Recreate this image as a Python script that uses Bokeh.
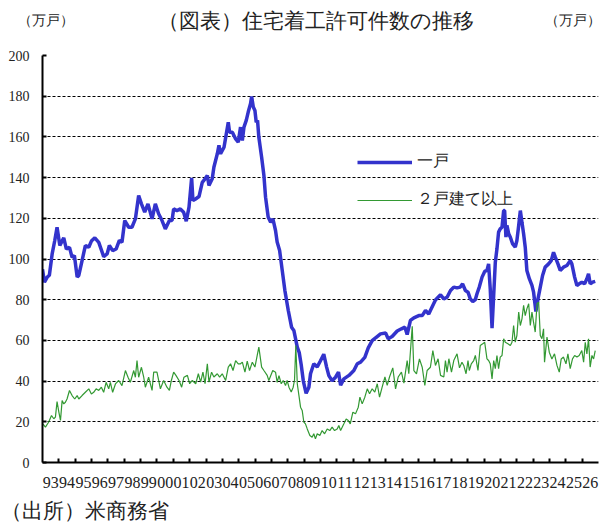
from bokeh.plotting import figure
from bokeh.layouts import column
from bokeh.models import (Range1d, FixedTicker, CustomJSTickFormatter, Label,
                          Legend, LegendItem, Plot)
from bokeh.embed import file_html
from bokeh.resources import INLINE

# ---- data (time in decimal years) ----
year_labels = ["93", "94", "95", "96", "97", "98", "99", "00", "01", "02", "03",
               "04", "05", "06", "07", "08", "09", "10", "11", "12", "13", "14",
               "15", "16", "17", "18", "19", "20", "21", "22", "23", "24", "25", "26"]
y_ticks = [0, 20, 40, 60, 80, 100, 120, 140, 160, 180, 200]

single_t = [1993.00, 1993.12, 1993.28, 1993.42, 1993.59, 1993.75, 1993.89, 1994.06, 1994.30,
            1994.46, 1994.65, 1994.81, 1994.95, 1995.12, 1995.22, 1995.42, 1995.62, 1995.83,
            1995.99, 1996.20, 1996.44, 1996.74, 1996.95, 1997.09, 1997.29, 1997.50, 1997.70,
            1997.86, 1998.03, 1998.27, 1998.47, 1998.68, 1998.88, 1999.05, 1999.25, 1999.45,
            1999.70, 1999.90, 2000.10, 2000.31, 2000.51, 2000.76, 2000.92, 2001.02, 2001.22,
            2001.43, 2001.63, 2001.79, 2001.96, 2002.12, 2002.20, 2002.36, 2002.57, 2002.77,
            2002.94, 2003.08, 2003.18, 2003.38, 2003.48, 2003.69, 2003.79, 2003.89, 2004.10,
            2004.24, 2004.36, 2004.44, 2004.61, 2004.81, 2004.97, 2005.11, 2005.22, 2005.32,
            2005.46, 2005.58, 2005.72, 2005.79, 2005.89, 2005.99, 2006.07, 2006.15, 2006.23,
            2006.40, 2006.54, 2006.64, 2006.80, 2006.95, 2007.09, 2007.25, 2007.35, 2007.50,
            2007.66, 2007.82, 2008.03, 2008.23, 2008.37, 2008.58, 2008.70, 2008.82, 2008.95,
            2009.12, 2009.29, 2009.39, 2009.59, 2009.80, 2010.00, 2010.20, 2010.37, 2010.51,
            2010.71, 2010.92, 2011.10, 2011.23, 2011.43, 2011.74, 2012.04, 2012.25, 2012.45,
            2012.71, 2012.92, 2013.16, 2013.37, 2013.67, 2013.98, 2014.14, 2014.38, 2014.69,
            2014.95, 2015.16, 2015.30, 2015.50, 2015.71, 2016.01, 2016.22, 2016.42, 2016.62,
            2016.72, 2017.03, 2017.19, 2017.34, 2017.54, 2017.74, 2017.95, 2018.15, 2018.35,
            2018.55, 2018.69, 2018.86, 2019.02, 2019.16, 2019.31, 2019.47, 2019.57, 2019.71,
            2019.88, 2020.04, 2020.18, 2020.28, 2020.38, 2020.49, 2020.59, 2020.69, 2020.79,
            2020.89, 2020.99, 2021.10, 2021.20, 2021.26, 2021.34, 2021.40, 2021.51, 2021.61,
            2021.75, 2021.91, 2022.01, 2022.12, 2022.22, 2022.32, 2022.42, 2022.52, 2022.62,
            2022.77, 2022.93, 2023.03, 2023.17, 2023.30, 2023.44, 2023.58, 2023.74, 2023.95,
            2024.11, 2024.25, 2024.36, 2024.52, 2024.66, 2024.86, 2025.07, 2025.27, 2025.37,
            2025.54, 2025.68, 2025.82, 2025.98, 2026.15, 2026.29, 2026.39, 2026.49, 2026.64,
            2026.80]
single_v = [95.0, 88.6, 91.0, 92.0, 102.5, 109.1, 115.6, 106.6, 110.4,
            104.9, 105.7, 100.8, 101.7, 91.1, 91.9, 99.2, 106.6, 105.8,
            108.8, 110.4, 108.2, 101.2, 102.5, 106.6, 104.1, 104.9, 109.1,
            108.2, 118.9, 115.6, 115.6, 119.7, 131.2, 127.1, 123.0, 127.1,
            119.7, 127.1, 122.2, 118.9, 114.8, 118.9, 118.9, 124.6, 123.8,
            124.6, 123.0, 118.6, 125.5, 139.9, 128.7, 129.5, 130.7, 137.7,
            139.4, 141.0, 136.1, 139.4, 145.1, 151.7, 155.8, 151.7, 154.9,
            161.5, 167.2, 162.3, 162.3, 159.0, 157.4, 164.8, 158.2, 164.8,
            168.1, 172.2, 176.3, 179.9, 174.7, 173.0, 167.2, 168.1, 159.8,
            150.0, 141.0, 130.4, 120.6, 118.1, 119.7, 114.0, 108.3, 104.2,
            94.4, 84.6, 74.7, 66.5, 64.9, 56.7, 54.0, 48.0, 40.0,
            34.0, 37.0, 43.6, 48.5, 47.0, 50.0, 53.2, 47.0, 42.7,
            40.2, 41.9, 44.4, 38.0, 41.1, 42.8, 45.2, 48.5, 49.3,
            51.7, 56.3, 59.9, 61.3, 63.2, 63.6, 60.8, 61.9, 64.6,
            65.7, 66.5, 62.9, 69.8, 71.1, 72.2, 72.2, 74.7, 73.0,
            74.7, 79.9, 81.2, 82.4, 80.4, 81.2, 84.5, 86.2, 85.8,
            86.2, 87.8, 84.5, 83.7, 80.4, 79.1, 80.1, 82.9, 86.2,
            91.1, 93.9, 94.4, 97.6, 85.3, 66.0, 82.1, 98.4, 105.0,
            113.2, 114.8, 115.6, 123.8, 123.8, 110.7, 116.5, 112.4, 110.7,
            107.4, 105.8, 109.1, 116.5, 123.8, 118.0, 112.4, 105.8, 94.4,
            90.3, 87.0, 83.7, 74.2, 80.4, 86.2, 91.9, 96.0, 97.6,
            99.2, 103.3, 100.9, 97.6, 94.4, 96.0, 96.8, 99.2, 97.6,
            91.1, 87.0, 87.8, 88.6, 87.8, 90.3, 92.7, 87.8, 88.6,
            89.0]

multi_t = [1993.02, 1993.18, 1993.38, 1993.55, 1993.69, 1993.79, 1993.89, 1994.00, 1994.10,
           1994.20, 1994.30, 1994.40, 1994.50, 1994.65, 1994.81, 1994.97, 1995.12, 1995.22,
           1995.42, 1995.62, 1995.83, 1995.99, 1996.13, 1996.28, 1996.44, 1996.60, 1996.74,
           1996.89, 1997.05, 1997.15, 1997.29, 1997.46, 1997.66, 1997.86, 1998.07, 1998.23,
           1998.37, 1998.58, 1998.68, 1998.78, 1998.88, 1999.05, 1999.19, 1999.29, 1999.49,
           1999.70, 1999.80, 2000.00, 2000.21, 2000.41, 2000.61, 2000.76, 2000.88, 2001.02,
           2001.16, 2001.35, 2001.51, 2001.65, 2001.86, 2002.00, 2002.16, 2002.37, 2002.53,
           2002.67, 2002.81, 2002.94, 2003.08, 2003.18, 2003.34, 2003.48, 2003.69, 2003.83,
           2003.99, 2004.20, 2004.36, 2004.50, 2004.65, 2004.81, 2004.97, 2005.11, 2005.22,
           2005.38, 2005.52, 2005.66, 2005.83, 2005.99, 2006.13, 2006.23, 2006.40, 2006.54,
           2006.74, 2006.84, 2007.08, 2007.25, 2007.35, 2007.46, 2007.60, 2007.72, 2007.86,
           2007.96, 2008.07, 2008.21, 2008.33, 2008.41, 2008.49, 2008.58, 2008.68, 2008.78,
           2008.88, 2008.98, 2009.08, 2009.19, 2009.35, 2009.49, 2009.59, 2009.69, 2009.80,
           2009.96, 2010.10, 2010.25, 2010.41, 2010.57, 2010.71, 2010.86, 2011.02, 2011.12,
           2011.23, 2011.43, 2011.57, 2011.70, 2011.82, 2011.98, 2012.14, 2012.31, 2012.41,
           2012.55, 2012.71, 2012.86, 2013.00, 2013.16, 2013.32, 2013.47, 2013.61, 2013.77,
           2013.94, 2014.08, 2014.22, 2014.42, 2014.59, 2014.75, 2014.95, 2015.10, 2015.30,
           2015.40, 2015.61, 2015.71, 2015.87, 2016.05, 2016.22, 2016.38, 2016.52, 2016.72,
           2016.87, 2017.03, 2017.19, 2017.34, 2017.54, 2017.64, 2017.74, 2017.85, 2018.01,
           2018.15, 2018.35, 2018.50, 2018.65, 2018.76, 2018.90, 2019.02, 2019.10, 2019.22,
           2019.37, 2019.47, 2019.63, 2019.77, 2019.92, 2020.04, 2020.18, 2020.28, 2020.38,
           2020.49, 2020.59, 2020.69, 2020.79, 2020.89, 2020.99, 2021.10, 2021.20, 2021.30,
           2021.46, 2021.61, 2021.71, 2021.81, 2021.91, 2022.01, 2022.12, 2022.22, 2022.32,
           2022.42, 2022.52, 2022.62, 2022.73, 2022.83, 2022.93, 2023.03, 2023.13, 2023.24,
           2023.34, 2023.44, 2023.54, 2023.64, 2023.70, 2023.85, 2023.99, 2024.15, 2024.31,
           2024.46, 2024.60, 2024.72, 2024.86, 2025.01, 2025.13, 2025.27, 2025.41, 2025.54,
           2025.68, 2025.82, 2025.98, 2026.09, 2026.19, 2026.29, 2026.39, 2026.49, 2026.60,
           2026.70, 2026.80]
multi_v = [19.0, 17.4, 19.9, 23.1, 21.5, 22.3, 29.9, 24.8, 20.7,
           30.4, 28.8, 29.6, 31.2, 35.4, 32.9, 31.2, 32.9, 31.2,
           32.9, 34.5, 36.2, 33.7, 34.5, 36.2, 35.4, 37.0, 34.5,
           39.4, 36.2, 39.4, 34.5, 38.6, 40.3, 37.8, 45.2, 41.9,
           39.4, 45.2, 41.9, 50.1, 41.9, 46.8, 41.9, 37.0, 41.9,
           35.4, 44.4, 44.4, 36.2, 40.3, 37.0, 35.4, 40.3, 44.4,
           42.8, 40.3, 37.0, 41.9, 42.8, 38.7, 40.3, 38.7, 43.6,
           39.5, 44.4, 38.7, 48.5, 39.5, 44.4, 42.0, 43.6, 42.0,
           43.6, 40.3, 46.9, 48.5, 45.2, 50.1, 48.5, 48.5, 49.3,
           44.4, 49.8, 45.2, 49.3, 46.9, 52.6, 56.7, 46.9, 45.2,
           42.8, 40.3, 45.2, 44.4, 39.4, 42.7, 38.7, 40.3, 37.8,
           40.3, 37.0, 34.6, 37.0, 40.3, 57.5, 38.7, 33.0, 27.2,
           25.6, 19.9, 19.0, 16.5, 13.3, 12.4, 14.1, 11.6, 14.1,
           13.3, 15.7, 14.1, 16.5, 15.7, 17.4, 15.7, 16.5, 18.2,
           15.7, 19.0, 21.4, 20.6, 19.0, 24.7, 23.9, 27.2, 32.1,
           28.8, 32.1, 36.2, 33.8, 36.2, 34.6, 38.7, 32.1, 37.0,
           42.0, 37.9, 42.0, 46.5, 36.2, 42.0, 44.4, 39.0, 50.1,
           43.6, 66.9, 45.2, 43.6, 50.9, 46.8, 37.9, 45.2, 46.8,
           55.0, 47.7, 51.0, 42.8, 42.0, 50.1, 44.4, 51.0, 44.4,
           50.1, 53.4, 46.5, 49.3, 47.7, 43.6, 50.1, 45.2, 48.5,
           50.1, 52.6, 45.2, 57.5, 58.3, 59.1, 50.9, 50.1, 48.5,
           41.1, 50.1, 46.1, 52.6, 46.1, 51.8, 52.6, 60.8, 59.1,
           58.3, 57.5, 59.1, 67.3, 59.1, 62.4, 73.9, 67.3, 70.6,
           77.2, 72.2, 75.5, 78.0, 67.3, 73.9, 68.9, 64.1, 78.0,
           78.8, 62.4, 60.8, 65.7, 49.3, 61.6, 54.2, 50.9, 53.4,
           47.7, 44.4, 50.9, 51.8, 48.5, 53.4, 46.1, 50.9, 52.6,
           51.8, 52.6, 55.0, 49.3, 59.1, 53.4, 60.8, 46.9, 52.6,
           50.9, 55.0]

TXT = "#222222"
FONT = "Liberation Serif"
W = 601
HAS_FRAME_ALIGN = "frame_align" in Plot.properties()


def blank(h):
    f = figure(width=W, height=h, output_backend="svg", toolbar_location=None,
               x_range=Range1d(0, W), y_range=Range1d(0, h),
               x_axis_type=None, y_axis_type=None,
               min_border_left=0, min_border_right=0, min_border_top=0,
               min_border_bottom=0, background_fill_color="white",
               border_fill_color="white")
    f.outline_line_color = None
    f.grid.visible = False
    if HAS_FRAME_ALIGN:
        f.frame_align = False
    return f


# ---- header strip (title and unit labels) ----
top = blank(47)
top.add_layout(Label(x=315, y=27, text="（図表）住宅着工許可件数の推移",
                     text_align="center", text_baseline="middle",
                     text_font=FONT, text_font_size="21px", text_color=TXT))
top.add_layout(Label(x=17, y=27, text="（万戸）", text_align="left",
                     text_baseline="middle", text_font=FONT,
                     text_font_size="14px", text_color=TXT))
top.add_layout(Label(x=600, y=27, text="（万戸）", text_align="right",
                     text_baseline="middle", text_font=FONT,
                     text_font_size="14px", text_color=TXT))

# ---- main chart ----
p = figure(width=W, height=450, output_backend="svg", toolbar_location=None,
           x_range=Range1d(1993, 2027), y_range=Range1d(0, 200),
           min_border_left=42, min_border_right=3, min_border_top=8,
           min_border_bottom=35, background_fill_color="white",
           border_fill_color="white")
p.outline_line_color = None
p.xgrid.visible = False

p.ygrid.grid_line_color = "black"
p.ygrid.grid_line_dash = "3 2"
p.ygrid.grid_line_width = 1

p.yaxis.ticker = FixedTicker(ticks=y_ticks)
p.yaxis.axis_line_width = 2
p.yaxis.axis_line_color = "black"
p.yaxis.major_tick_in = 4
p.yaxis.major_tick_out = 0
p.yaxis.major_tick_line_width = 2
p.yaxis.minor_tick_line_color = None
p.yaxis.major_label_standoff = 13
p.yaxis.major_label_text_font = FONT
p.yaxis.major_label_text_font_size = "14px"
p.yaxis.major_label_text_color = TXT

centers = [1993.5 + i for i in range(len(year_labels))]
bounds = [1994 + i for i in range(len(year_labels) - 1)]
p.xaxis.ticker = FixedTicker(ticks=centers, minor_ticks=bounds)
p.xaxis.formatter = CustomJSTickFormatter(args=dict(labels=year_labels),
                                          code="return labels[Math.round(tick - 1993.5)];")
p.xaxis.axis_line_width = 2
p.xaxis.axis_line_color = "black"
p.xaxis.major_tick_in = 0
p.xaxis.major_tick_out = 0
p.xaxis.minor_tick_in = 4
p.xaxis.minor_tick_out = 0
p.xaxis.minor_tick_line_width = 2
p.xaxis.minor_tick_line_color = "black"
p.xaxis.major_label_standoff = 14
p.xaxis.major_label_text_font = FONT
p.xaxis.major_label_text_font_size = "16px"
p.xaxis.major_label_text_color = TXT

r1 = p.line(single_t, single_v, line_color="#3333CC", line_width=3.5)
r2 = p.line(multi_t, multi_v, line_color="#339933", line_width=1.2)

legend = Legend(items=[LegendItem(label="一戸", renderers=[r1]),
                       LegendItem(label="２戸建て以上", renderers=[r2])],
                location=(315, 252), orientation="vertical",
                glyph_width=55, glyph_height=20, label_height=20, spacing=17,
                label_standoff=5, padding=0, margin=0,
                border_line_color=None, background_fill_alpha=0,
                label_text_font=FONT, label_text_font_size="16px",
                label_text_color=TXT)
p.add_layout(legend, "center")

# ---- footer strip (source) ----
bottom = blank(27)
bottom.add_layout(Label(x=0, y=14, text="（出所）米商務省", text_align="left",
                        text_baseline="middle", text_font=FONT,
                        text_font_size="21px", text_color=TXT))

layout = column(top, p, bottom, spacing=0)
open("out.html", "w").write(file_html(layout, INLINE))
